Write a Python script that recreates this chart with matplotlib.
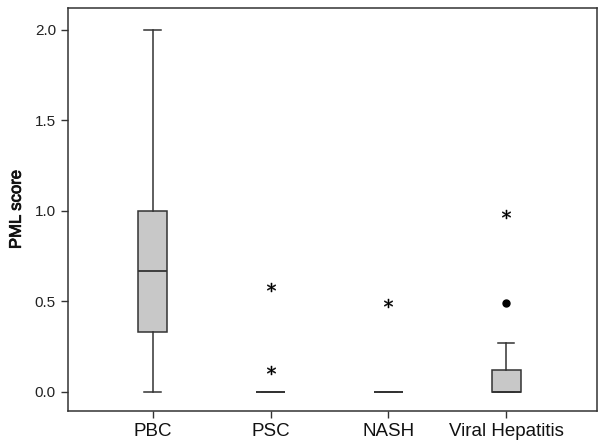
import numpy as np
import matplotlib.pyplot as plt
import matplotlib.patheffects as pe

plt.rcParams['font.family'] = ['Liberation Sans', 'DejaVu Sans']

# groups and box statistics
groups = ['PBC', 'PSC', 'NASH', 'Viral Hepatitis']
q1 = [0.33, 0.0, 0.0, 0.0]
med = [0.67, 0.0, 0.0, 0.0]
q3 = [1.0, 0.0, 0.0, 0.12]
whislo = [0.0, 0.0, 0.0, 0.0]
whishi = [2.0, 0.0, 0.0, 0.27]
# mild outliers (circles) and extreme outliers (stars)
mild = [[], [], [], [0.49]]
extreme = [[], [0.58, 0.12], [0.49], [0.98]]

stats = []
for i, g in enumerate(groups):
    stats.append(dict(label=g, q1=q1[i], med=med[i], q3=q3[i],
                      whislo=whislo[i], whishi=whishi[i], fliers=mild[i]))

fig = plt.figure(figsize=(6, 4.48), dpi=100)
ax = fig.add_axes([0.113, 0.083, 0.882, 0.899])

pos = np.arange(1, len(groups) + 1)
ax.bxp(stats, positions=pos, widths=0.25, patch_artist=True, showcaps=True,
       boxprops=dict(facecolor='#c8c8c8', edgecolor='#333333', linewidth=1.1),
       medianprops=dict(color='#333333', linewidth=1.3),
       whiskerprops=dict(color='#333333', linewidth=1.1),
       capprops=dict(color='#333333', linewidth=1.1),
       capwidths=0.14,
       flierprops=dict(marker='o', markerfacecolor='black', markeredgecolor='black', markersize=5))

for i, vals in enumerate(extreme):
    ax.scatter([pos[i]] * len(vals), vals, marker='$*$', s=42, color='black',
               linewidths=0.3, edgecolors='black')

ax.set_xlim(0.28, 4.77)
ax.set_ylim(-0.105, 2.12)
ax.set_yticks([0.0, 0.5, 1.0, 1.5, 2.0])
ax.set_yticklabels(['0.0', '0.5', '1.0', '1.5', '2.0'], fontsize=11, color='#222222')
ax.set_xticks(pos)
ax.set_xticklabels(groups, fontsize=13.5, color='#111111')
ax.tick_params(axis='both', direction='out', length=5, width=1, color='#333333')
lab = ax.set_ylabel('PML score', fontsize=12, color='#111111', labelpad=8)
lab.set_path_effects([pe.withStroke(linewidth=0.6, foreground='#111111')])
for s in ax.spines.values():
    s.set_color('#333333')
    s.set_linewidth(1.1)

fig.savefig('out.png', dpi=100)
